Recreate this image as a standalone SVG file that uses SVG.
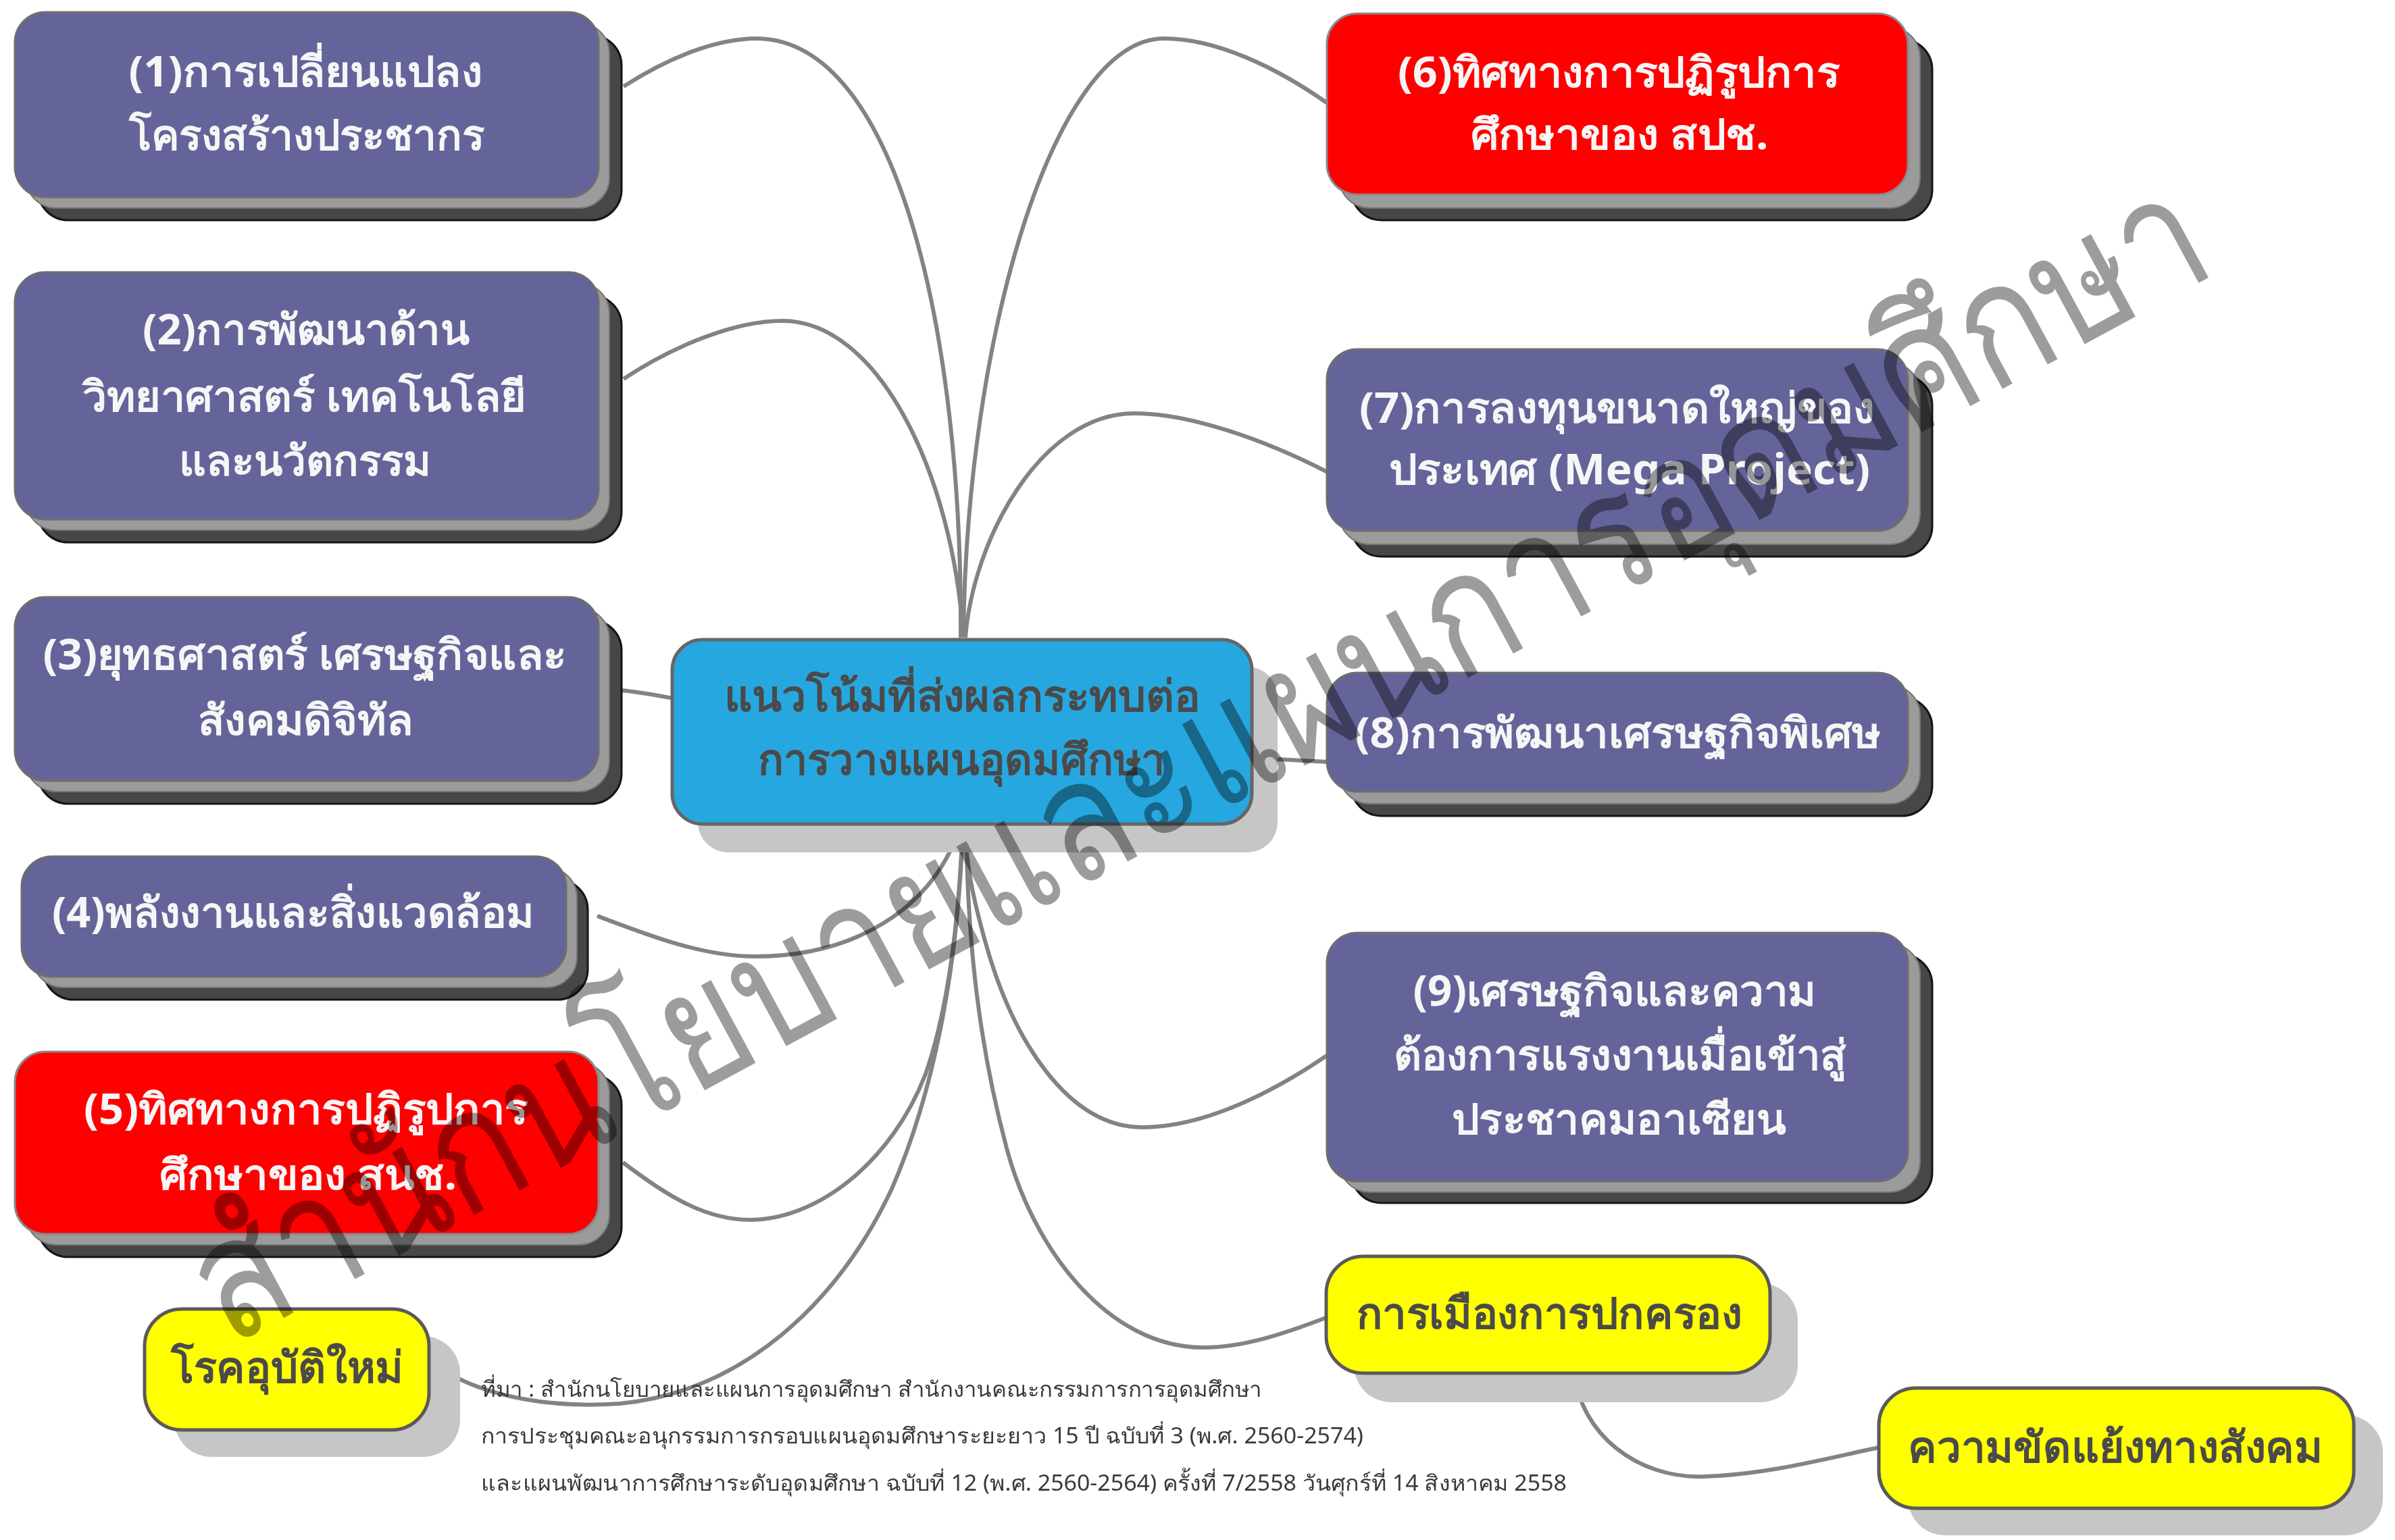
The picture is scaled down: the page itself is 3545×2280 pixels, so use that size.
<svg xmlns="http://www.w3.org/2000/svg" width="3545" height="2280" viewBox="0 0 3545 2280">
<style>
.bk{fill:#474747;stroke:#151515;stroke-width:3}
.md{fill:#9b9b9b;stroke:#777;stroke-width:2}
.pu{fill:#64649a;stroke:#6e6e6e;stroke-width:3}
.rd{fill:#ff0000;stroke:#8a8a8a;stroke-width:3}
.ye{fill:#ffff00;stroke:#5a5a5a;stroke-width:5}
.sh{fill:#c6c6c6}
.ce{fill:#27a7df;stroke:#666;stroke-width:5}
.wt{font-family:'Noto Sans','DejaVu Sans',sans-serif;font-weight:bold;font-size:62px;fill:#f6f6f6;text-anchor:middle}
.dt{font-family:'Noto Sans','DejaVu Sans',sans-serif;font-weight:bold;font-size:64px;fill:#4a4a4a;text-anchor:middle}
.ft{font-family:'Noto Sans','DejaVu Sans',sans-serif;font-size:32px;fill:#3a3a3a}
.cn{fill:none;stroke:#838383;stroke-width:6}
.wm{font-family:'Noto Sans','DejaVu Sans',sans-serif;font-weight:300;font-size:250px;fill:#9c9c9c;mix-blend-mode:multiply}
</style>
<rect width="3545" height="2280" fill="#ffffff"/>
<g id="connectors">
<path class="cn" d="M923,128 C990,85 1060,57 1121,57 C1330,60 1425,500 1422,944"/>
<path class="cn" d="M923,561 C1000,510 1090,475 1158,475 C1300,475 1410,700 1426,944"/>
<path class="cn" d="M1965,153 C1890,100 1800,57 1723,57 C1560,57 1430,500 1426,944"/>
<path class="cn" d="M1965,699 C1870,650 1760,612 1679,612 C1540,612 1440,800 1429,944"/>
<path class="cn" d="M920,1022 C950,1025 975,1030 997,1034"/>
<path class="cn" d="M1853,1122 L1965,1128"/>
<path class="cn" d="M884,1356 C960,1385 1040,1416 1117,1416 C1260,1416 1380,1350 1422,1222"/>
<path class="cn" d="M922,1721 C980,1765 1040,1806 1110,1806 C1210,1806 1320,1720 1370,1590 C1405,1490 1420,1350 1425,1222"/>
<path class="cn" d="M650,2025 C720,2070 820,2085 918,2078 C1100,2060 1240,1930 1320,1760 C1390,1600 1420,1400 1425,1222"/>
<path class="cn" d="M1965,1562 C1880,1620 1780,1669 1690,1669 C1580,1668 1500,1540 1460,1400 C1440,1330 1430,1280 1428,1222"/>
<path class="cn" d="M1965,1950 C1900,1975 1840,1995 1781,1995 C1640,1995 1530,1850 1490,1700 C1450,1550 1432,1400 1430,1222"/>
<path class="cn" d="M2330,2033 C2340,2120 2420,2190 2524,2186 C2620,2182 2700,2160 2781,2143"/>
</g>
<g id="node1">
<rect class="bk" x="56" y="52" width="864" height="274" rx="45"/>
<rect class="md" x="38" y="34" width="864" height="274" rx="45"/>
<rect class="pu" x="22" y="18" width="864" height="274" rx="45"/>
<text class="wt" x="452" y="128" textLength="523" lengthAdjust="spacingAndGlyphs">(1)การเปลี่ยนแปลง</text>
<text class="wt" x="454" y="222" textLength="527" lengthAdjust="spacingAndGlyphs">โครงสร้างประชากร</text>
</g>
<g id="node2">
<rect class="bk" x="56" y="437" width="864" height="366" rx="45"/>
<rect class="md" x="38" y="419" width="864" height="366" rx="45"/>
<rect class="pu" x="22" y="403" width="864" height="366" rx="45"/>
<text class="wt" x="453" y="510" textLength="484" lengthAdjust="spacingAndGlyphs">(2)การพัฒนาด้าน</text>
<text class="wt" x="450" y="609" textLength="657" lengthAdjust="spacingAndGlyphs">วิทยาศาสตร์ เทคโนโลยี</text>
<text class="wt" x="451" y="704" textLength="373" lengthAdjust="spacingAndGlyphs">และนวัตกรรม</text>
</g>
<g id="node3">
<rect class="bk" x="56" y="918" width="864" height="272" rx="45"/>
<rect class="md" x="38" y="900" width="864" height="272" rx="45"/>
<rect class="pu" x="22" y="884" width="864" height="272" rx="45"/>
<text class="wt" x="451" y="991" textLength="775" lengthAdjust="spacingAndGlyphs">(3)ยุทธศาสตร์ เศรษฐกิจและ</text>
<text class="wt" x="452" y="1088" textLength="319" lengthAdjust="spacingAndGlyphs">สังคมดิจิทัล</text>
</g>
<g id="node4">
<rect class="bk" x="64" y="1302" width="806" height="178" rx="45"/>
<rect class="md" x="48" y="1284" width="806" height="178" rx="45"/>
<rect class="pu" x="32" y="1268" width="806" height="178" rx="45"/>
<text class="wt" x="434" y="1373" textLength="714" lengthAdjust="spacingAndGlyphs">(4)พลังงานและสิ่งแวดล้อม</text>
</g>
<g id="node5">
<rect class="bk" x="56" y="1591" width="864" height="270" rx="45"/>
<rect class="md" x="38" y="1573" width="864" height="270" rx="45"/>
<rect class="rd" x="22" y="1557" width="864" height="270" rx="45"/>
<text class="wt" x="453" y="1664" textLength="658" lengthAdjust="spacingAndGlyphs">(5)ทิศทางการปฏิรูปการ</text>
<text class="wt" x="456" y="1761" textLength="440" lengthAdjust="spacingAndGlyphs">ศึกษาของ สนช.</text>
</g>
<g id="node6">
<rect class="bk" x="2000" y="58" width="860" height="268" rx="45"/>
<rect class="md" x="1982" y="40" width="860" height="268" rx="45"/>
<rect class="rd" x="1964" y="20" width="860" height="268" rx="45"/>
<text class="wt" x="2396" y="129" textLength="654" lengthAdjust="spacingAndGlyphs">(6)ทิศทางการปฏิรูปการ</text>
<text class="wt" x="2397" y="221" textLength="441" lengthAdjust="spacingAndGlyphs">ศึกษาของ สปช.</text>
</g>
<g id="node7">
<rect class="bk" x="2000" y="555" width="860" height="269" rx="45"/>
<rect class="md" x="1982" y="537" width="860" height="269" rx="45"/>
<rect class="pu" x="1964" y="517" width="860" height="269" rx="45"/>
<text class="wt" x="2393" y="626" textLength="762" lengthAdjust="spacingAndGlyphs">(7)การลงทุนขนาดใหญ่ของ</text>
<text class="wt" x="2412" y="717" textLength="712" lengthAdjust="spacingAndGlyphs">ประเทศ (Mega Project)</text>
</g>
<g id="node8">
<rect class="bk" x="2000" y="1032" width="860" height="176" rx="45"/>
<rect class="md" x="1982" y="1014" width="860" height="176" rx="45"/>
<rect class="pu" x="1964" y="996" width="860" height="176" rx="45"/>
<text class="wt" x="2395" y="1107" textLength="779" lengthAdjust="spacingAndGlyphs">(8)การพัฒนาเศรษฐกิจพิเศษ</text>
</g>
<g id="node9">
<rect class="bk" x="2000" y="1413" width="860" height="368" rx="45"/>
<rect class="md" x="1982" y="1397" width="860" height="368" rx="45"/>
<rect class="pu" x="1964" y="1381" width="860" height="368" rx="45"/>
<text class="wt" x="2390" y="1489" textLength="597" lengthAdjust="spacingAndGlyphs">(9)เศรษฐกิจและความ</text>
<text class="wt" x="2398" y="1584" textLength="670" lengthAdjust="spacingAndGlyphs">ต้องการแรงงานเมื่อเข้าสู่</text>
<text class="wt" x="2396" y="1679" textLength="494" lengthAdjust="spacingAndGlyphs">ประชาคมอาเซียน</text>
</g>
<g id="center">
<rect class="sh" x="1033" y="987" width="858" height="275" rx="45"/>
<rect class="ce" x="995" y="947" width="858" height="273" rx="45"/>
<text class="dt" x="1424" y="1053" textLength="705" lengthAdjust="spacingAndGlyphs">แนวโน้มที่ส่งผลกระทบต่อ</text>
<text class="dt" x="1423" y="1147" textLength="603" lengthAdjust="spacingAndGlyphs">การวางแผนอุดมศึกษา</text>
</g>
<g id="disease">
<rect class="sh" x="258" y="1978" width="423" height="179" rx="55"/>
<rect class="ye" x="214" y="1938" width="421" height="179" rx="55"/>
<text class="dt" x="425" y="2047" textLength="344" lengthAdjust="spacingAndGlyphs">โรคอุบัติใหม่</text>
</g>
<g id="politics">
<rect class="sh" x="2004" y="1900" width="657" height="176" rx="55"/>
<rect class="ye" x="1963" y="1860" width="657" height="173" rx="55"/>
<text class="dt" x="2293" y="1967" textLength="571" lengthAdjust="spacingAndGlyphs">การเมืองการปกครอง</text>
</g>
<g id="conflict">
<rect class="sh" x="2824" y="2095" width="703" height="178" rx="55"/>
<rect class="ye" x="2781" y="2055" width="703" height="178" rx="55"/>
<text class="dt" x="3131" y="2165" textLength="614" lengthAdjust="spacingAndGlyphs">ความขัดแย้งทางสังคม</text>
</g>
<g id="source">
<text class="ft" x="712" y="2068" textLength="1156" lengthAdjust="spacingAndGlyphs">ที่มา : สำนักนโยบายและแผนการอุดมศึกษา สำนักงานคณะกรรมการการอุดมศึกษา</text>
<text class="ft" x="712" y="2137" textLength="1306" lengthAdjust="spacingAndGlyphs">การประชุมคณะอนุกรรมการกรอบแผนอุดมศึกษาระยะยาว 15 ปี ฉบับที่ 3 (พ.ศ. 2560-2574)</text>
<text class="ft" x="712" y="2207" textLength="1607" lengthAdjust="spacingAndGlyphs">และแผนพัฒนาการศึกษาระดับอุดมศึกษา ฉบับที่ 12 (พ.ศ. 2560-2564) ครั้งที่ 7/2558 วันศุกร์ที่ 14 สิงหาคม 2558</text>
</g>
<g id="watermark">
<text class="wm" x="339" y="1995" transform="rotate(-28.4 339 1995)" textLength="3351" lengthAdjust="spacingAndGlyphs">สำนักนโยบายและแผนการอุดมศึกษา</text>
</g>
</svg>
